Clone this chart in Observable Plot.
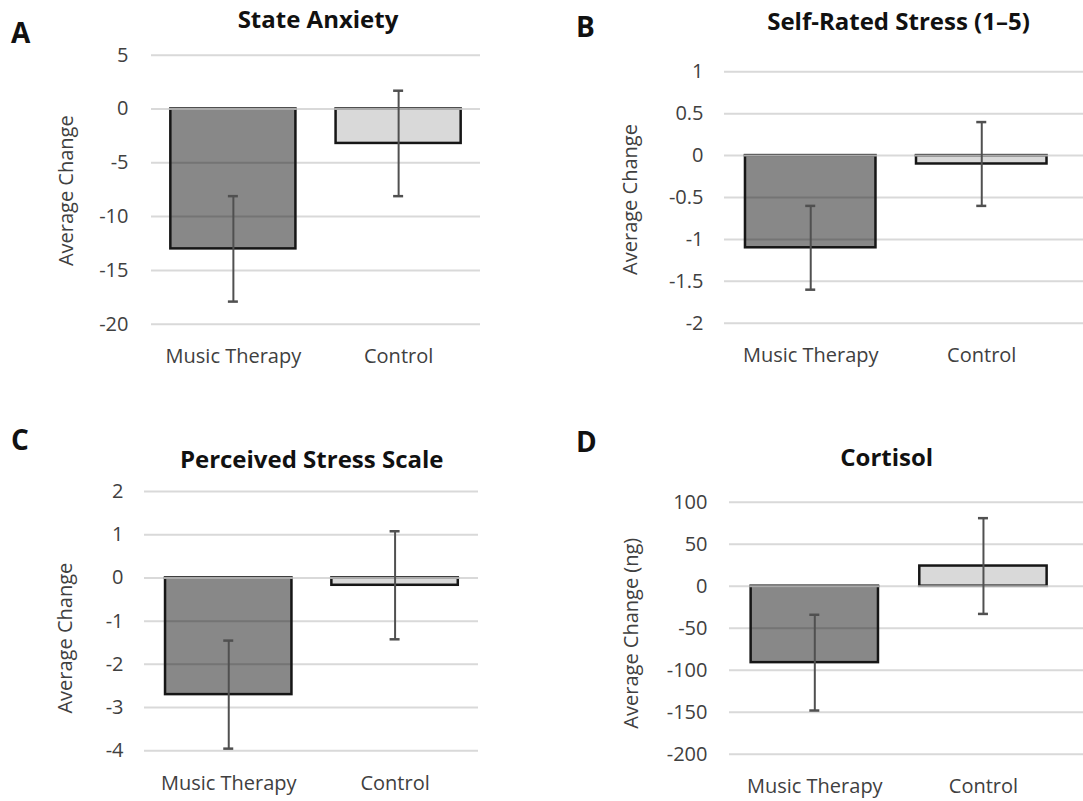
<!DOCTYPE html>
<html>
<head>
<meta charset="utf-8">
<script src="https://cdn.jsdelivr.net/npm/d3@7"></script>
<script src="https://cdn.jsdelivr.net/npm/@observablehq/plot@0.6"></script>
<style>
  body { margin: 0; background: #fff; }
  #fig { position: relative; width: 1083px; height: 801px; overflow: hidden; font-family: "Open Sans", sans-serif; }
  .panel { position: absolute; }
  .panel svg { overflow: visible; }
  .letter { position: absolute; font-weight: 700; font-size: 28px; line-height: 1; color: #111; }
  .title { position: absolute; font-weight: 700; font-size: 24px; line-height: 1; color: #111; transform: translateX(-50%); white-space: nowrap; }
</style>
</head>
<body>
<div id="fig"></div>
<script>
// Groups compared in every panel
const groups = ["Music Therapy", "Control"];

// A: State Anxiety (mean change, error half-width)
const stateAnxietyMean = [-13, -3.2];
const stateAnxietyErr = [4.9, 4.9];
const stateAnxietyTicks = [-20, -15, -10, -5, 0, 5];

// B: Self-Rated Stress (1–5)
const selfRatedMean = [-1.1, -0.1];
const selfRatedErr = [0.5, 0.5];
const selfRatedTicks = [-2, -1.5, -1, -0.5, 0, 0.5, 1];

// C: Perceived Stress Scale
const pssMean = [-2.7, -0.17];
const pssErr = [1.25, 1.25];
const pssTicks = [-4, -3, -2, -1, 0, 1, 2];

// D: Cortisol (ng)
const cortisolMean = [-91, 24];
const cortisolErr = [57, 57];
const cortisolTicks = [-200, -150, -100, -50, 0, 50, 100];

const titleSize = 24;
const letterSize = 28;

const panels = [
  {
    letter: "A", title: "State Anxiety", yLabel: "Average Change",
    mean: stateAnxietyMean, err: stateAnxietyErr, ticks: stateAnxietyTicks, domain: [-20, 5],
    box: {left: 0, top: 0, width: 540, height: 390},
    margin: {top: 54.7, right: 60, bottom: 66.3, left: 151},
    band: {inner: 0.243, outer: 0.117, align: 0.5},
    tickPad: 23, labelDx: -84.8, labelDy: 1,
    titleX: 318, titleBase: 28.3, letterX: 11, letterBase: 43.3
  },
  {
    letter: "B", title: "Self-Rated Stress (1–5)", yLabel: "Average Change",
    mean: selfRatedMean, err: selfRatedErr, ticks: selfRatedTicks, domain: [-2, 1],
    box: {left: 540, top: 0, width: 543, height: 390},
    margin: {top: 71.3, right: 0, bottom: 67.3, left: 184},
    band: {inner: 0.237, outer: 0.168, align: 0.365},
    tickPad: 21, labelDx: -94.2, labelDy: 2,
    titleX: 898.5, titleBase: 30.7, letterX: 576, letterBase: 36.7
  },
  {
    letter: "C", title: "Perceived Stress Scale", yLabel: "Average Change",
    mean: pssMean, err: pssErr, ticks: pssTicks, domain: [-4, 2],
    box: {left: 0, top: 390, width: 540, height: 411},
    margin: {top: 101, right: 62, bottom: 50.7, left: 144},
    band: {inner: 0.24, outer: 0.124, align: 0.51},
    tickPad: 21, labelDx: -79.2, labelDy: 17,
    titleX: 311.7, titleBase: 468.3, letterX: 11, letterBase: 450
  },
  {
    letter: "D", title: "Cortisol", yLabel: "Average Change (ng)",
    mean: cortisolMean, err: cortisolErr, ticks: cortisolTicks, domain: [-200, 100],
    box: {left: 540, top: 390, width: 543, height: 411},
    margin: {top: 111.7, right: 0, bottom: 47.3, left: 189},
    band: {inner: 0.245, outer: 0.172, align: 0.373},
    tickPad: 22, labelDx: -98.4, labelDy: 5,
    titleX: 886.7, titleBase: 466.7, letterX: 576, letterBase: 451.7
  }
];

const fig = document.getElementById("fig");
const textColor = "#404040";
const errColor = "#505050";

function drawPanel(p) {
  const rows = groups.map((g, i) => ({
    group: g,
    mean: p.mean[i],
    lo: p.mean[i] - p.err[i],
    hi: p.mean[i] + p.err[i]
  }));

  // Same band geometry as the plot's x scale, to size the error-bar caps
  const bw = d3.scaleBand()
    .domain(groups)
    .range([p.margin.left, p.box.width - p.margin.right])
    .paddingInner(p.band.inner)
    .paddingOuter(p.band.outer)
    .align(p.band.align)
    .bandwidth();
  const capInset = (bw - 10) / 2;

  const chart = Plot.plot({
    width: p.box.width,
    height: p.box.height,
    marginTop: p.margin.top,
    marginRight: p.margin.right,
    marginBottom: p.margin.bottom,
    marginLeft: p.margin.left,
    style: {fontFamily: '"Open Sans", sans-serif', fontSize: "20px", color: textColor, background: "transparent", overflow: "visible"},
    x: {domain: groups, paddingInner: p.band.inner, paddingOuter: p.band.outer, align: p.band.align, round: false},
    y: {domain: p.domain},
    color: {domain: groups, range: ["rgba(0,0,0,0.467)", "rgba(0,0,0,0.149)"]},
    marks: [
      Plot.ruleY(p.ticks, {stroke: "#d9d9d9", strokeWidth: 2}),
      Plot.barY(rows, {x: "group", y: "mean", fill: "group", stroke: "#161616", strokeWidth: 2.5}),
      // zero axis line across each bar's base
      Plot.tickY(rows, {x: "group", y: () => 0, stroke: "#ababab", strokeWidth: 2, insetLeft: -1.5, insetRight: -1.5}),
      Plot.ruleX(rows, {x: "group", y1: "lo", y2: "hi", stroke: errColor, strokeWidth: 2}),
      Plot.tickY(rows, {x: "group", y: "lo", stroke: errColor, strokeWidth: 2.5, insetLeft: capInset, insetRight: capInset}),
      Plot.tickY(rows, {x: "group", y: "hi", stroke: errColor, strokeWidth: 2.5, insetLeft: capInset, insetRight: capInset}),
      Plot.axisY({ticks: p.ticks, tickSize: 0, tickPadding: p.tickPad, tickFormat: d => String(d), label: null, fontSize: 20}),
      Plot.axisX({tickSize: 0, tickPadding: 25, label: null, fontSize: 20}),
      Plot.text([p.yLabel], {
        frameAnchor: "left", text: d => d, rotate: -90,
        dx: p.labelDx, dy: p.labelDy,
        textAnchor: "middle", lineAnchor: "middle",
        fontSize: 20, fill: textColor
      })
    ]
  });

  const holder = document.createElement("div");
  holder.className = "panel";
  holder.style.left = p.box.left + "px";
  holder.style.top = p.box.top + "px";
  holder.appendChild(chart);
  fig.appendChild(holder);

  const title = document.createElement("div");
  title.className = "title";
  title.textContent = p.title;
  title.style.left = p.titleX + "px";
  title.style.top = (p.titleBase - 0.888 * titleSize) + "px";
  fig.appendChild(title);

  const letter = document.createElement("div");
  letter.className = "letter";
  letter.textContent = p.letter;
  letter.style.left = p.letterX + "px";
  letter.style.top = (p.letterBase - 0.888 * letterSize) + "px";
  fig.appendChild(letter);
}

panels.forEach(drawPanel);
</script>
</body>
</html>
